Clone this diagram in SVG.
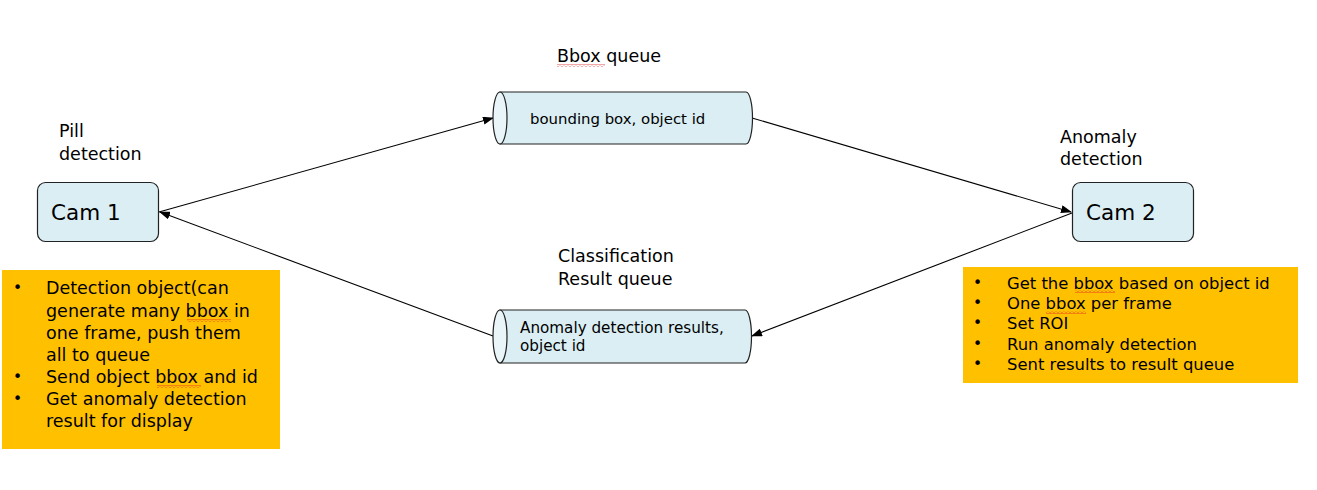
<svg xmlns="http://www.w3.org/2000/svg" width="1317" height="490" viewBox="0 0 1317 490">
<style>
text{font-family:"DejaVu Sans","Liberation Sans",sans-serif;fill:#000}
.lbl{font-size:17.5px}
.cam{font-size:21.5px}
.box{fill:#DAEEF3;stroke:#222;stroke-width:1.2}
.cap{fill:#EAF5F9;stroke:#222;stroke-width:1.2}
.note{fill:#FFC000}
.nl{font-size:17.5px}
.nr{font-size:16.4px}
.bul{font-size:15.5px}
.edge{stroke:#000;stroke-width:1.1;fill:none;marker-end:url(#ah)}
</style>
<defs>
<marker id="ah" markerWidth="11" markerHeight="8" refX="10" refY="4" orient="auto" markerUnits="userSpaceOnUse">
<path d="M0,0 L11,4 L0,8 Z" fill="#000"/>
</marker>
<pattern id="sq" width="4" height="3" patternUnits="userSpaceOnUse">
<path d="M0,2.5 L2,0.5 L4,2.5" stroke="#e02020" stroke-width="0.8" fill="none"/>
</pattern>
</defs>
<rect width="1317" height="490" fill="#fff"/>

<g id="connectors">
<line class="edge" x1="159" y1="212" x2="493" y2="118"/>
<line class="edge" x1="752" y1="118" x2="1071" y2="212"/>
<line class="edge" x1="1072" y1="213" x2="752" y2="336"/>
<line class="edge" x1="493" y1="336" x2="160" y2="212"/>
</g>

<g id="label-bbox-queue">
<text class="lbl" x="557" y="62">Bbox queue</text>
<rect x="557" y="64" width="48" height="3" fill="url(#sq)"/>
</g>
<g id="label-pill">
<text class="lbl" x="59" y="137">Pill</text>
<text class="lbl" x="59" y="160">detection</text>
</g>
<g id="label-anomaly">
<text class="lbl" x="1060" y="143">Anomaly</text>
<text class="lbl" x="1060" y="165">detection</text>
</g>
<g id="label-class-queue">
<text class="lbl" x="558" y="262">Classification</text>
<text class="lbl" x="558" y="285">Result queue</text>
</g>

<g id="bbox-queue">
<path class="box" d="M500,92 H746 A6.5,26 0 0 1 746,144 H500 Z"/>
<ellipse class="cap" cx="500" cy="118" rx="7" ry="26"/>
<text x="530" y="124" style="font-size:14.9px">bounding box, object id</text>
</g>

<g id="result-queue">
<path class="box" d="M500,310 H745 A6.5,26.5 0 0 1 745,363 H500 Z"/>
<ellipse class="cap" cx="500" cy="336.5" rx="7" ry="26.5"/>
<text x="520" y="333" style="font-size:15.2px">Anomaly detection results,</text>
<text x="520" y="351" style="font-size:15.2px">object id</text>
</g>

<g id="cam1">
<rect class="box" x="37.5" y="182.5" width="121" height="59" rx="8"/>
<text class="cam" x="51" y="220">Cam 1</text>
</g>

<g id="cam2">
<rect class="box" x="1072.5" y="182.5" width="121" height="59" rx="8"/>
<text class="cam" x="1086" y="220">Cam 2</text>
</g>

<g id="note-left">
<rect class="note" x="2" y="270" width="278" height="179"/>
<text class="bul" x="13" y="293">•</text>
<text class="nl" x="46" y="294">Detection object(can</text>
<text class="nl" x="46" y="317">generate many bbox in</text>
<text class="nl" x="46" y="339">one frame, push them</text>
<text class="nl" x="46" y="361">all to queue</text>
<text class="bul" x="13" y="382">•</text>
<text class="nl" x="46" y="383">Send object bbox and id</text>
<text class="bul" x="13" y="404">•</text>
<text class="nl" x="46" y="405">Get anomaly detection</text>
<text class="nl" x="46" y="427">result for display</text>
<rect x="187" y="319" width="44" height="3" fill="url(#sq)"/>
<rect x="157" y="385" width="44" height="3" fill="url(#sq)"/>
</g>

<g id="note-right">
<rect class="note" x="963" y="267" width="335" height="116"/>
<text class="bul" x="973" y="288">•</text>
<text class="nr" x="1007" y="289">Get the bbox based on object id</text>
<text class="bul" x="973" y="308">•</text>
<text class="nr" x="1007" y="309">One bbox per frame</text>
<text class="bul" x="973" y="328">•</text>
<text class="nr" x="1007" y="329">Set ROI</text>
<text class="bul" x="973" y="349">•</text>
<text class="nr" x="1007" y="350">Run anomaly detection</text>
<text class="bul" x="973" y="369">•</text>
<text class="nr" x="1007" y="370">Sent results to result queue</text>
<rect x="1075" y="290" width="40" height="3" fill="url(#sq)"/>
<rect x="1046" y="311" width="40" height="3" fill="url(#sq)"/>
</g>
</svg>
